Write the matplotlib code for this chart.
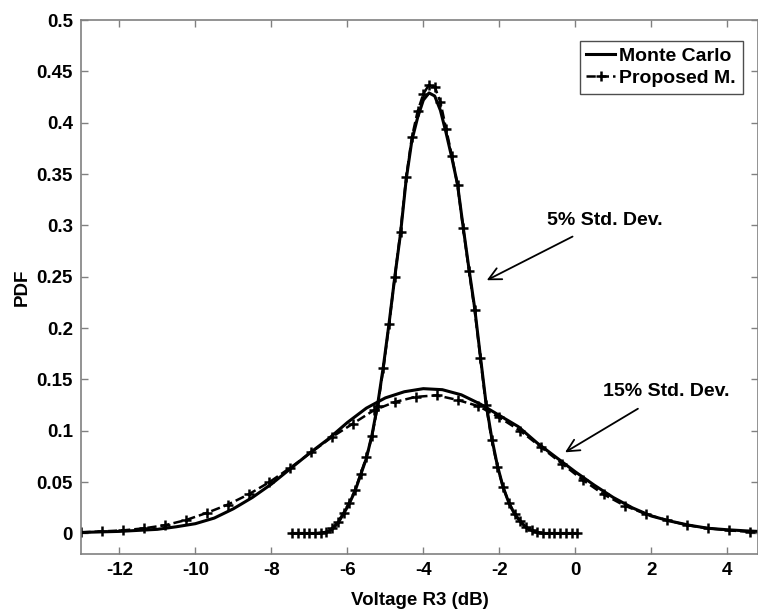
import matplotlib
matplotlib.use('Agg')
import matplotlib.pyplot as plt

plt.rcParams['font.family'] = ['Liberation Sans', 'DejaVu Sans']
plt.rcParams['font.weight'] = 'bold'
plt.rcParams['axes.unicode_minus'] = False

# 5% std. dev. case
narrow_x = [-7.45, -7.30, -7.15, -7.00, -6.85, -6.70, -6.55, -6.40, -6.25, -6.10,
            -5.95, -5.80, -5.65, -5.50, -5.35, -5.20, -5.05, -4.90, -4.75, -4.60,
            -4.45, -4.30, -4.15, -4.00, -3.85, -3.70, -3.55, -3.40, -3.25, -3.10,
            -2.95, -2.80, -2.65, -2.50, -2.35, -2.20, -2.05, -1.90, -1.75, -1.60,
            -1.45, -1.30, -1.15, -1.00, -0.85, -0.70, -0.55, -0.40, -0.25, -0.10, 0.05]
narrow_mc = [0, 0, 0, 0, 0, 0.0005, 0.0012, 0.004, 0.010, 0.019,
             0.029, 0.041, 0.057, 0.073, 0.096, 0.126, 0.163, 0.205, 0.250, 0.292,
             0.345, 0.383, 0.405, 0.422, 0.429, 0.426, 0.412, 0.390, 0.366, 0.340,
             0.298, 0.258, 0.220, 0.173, 0.127, 0.093, 0.066, 0.045, 0.030, 0.019,
             0.012, 0.006, 0.003, 0.001, 0, 0, 0, 0, 0, 0, 0]
narrow_pm = [0, 0, 0, 0, 0, 0.0005, 0.0015, 0.005, 0.011, 0.020,
             0.030, 0.042, 0.058, 0.074, 0.095, 0.124, 0.161, 0.204, 0.250, 0.294,
             0.347, 0.386, 0.411, 0.428, 0.437, 0.435, 0.420, 0.394, 0.368, 0.339,
             0.297, 0.256, 0.218, 0.171, 0.125, 0.091, 0.065, 0.045, 0.030, 0.019,
             0.012, 0.006, 0.003, 0.001, 0, 0, 0, 0, 0, 0, 0]

# 15% std. dev. case
wide_mc_x = [-13.0, -12.5, -12.0, -11.5, -11.0, -10.5, -10.0, -9.5, -9.0, -8.5,
             -8.0, -7.5, -7.0, -6.5, -6.0, -5.5, -5.0, -4.5, -4.0, -3.5,
             -3.0, -2.5, -2.0, -1.5, -1.0, -0.5, 0.0, 0.5, 1.0, 1.5,
             2.0, 2.5, 3.0, 3.5, 4.0, 4.5, 4.8]
wide_mc = [0.001, 0.0015, 0.002, 0.003, 0.004, 0.0065, 0.0095, 0.015, 0.024, 0.035,
           0.048, 0.063, 0.078, 0.092, 0.108, 0.122, 0.132, 0.138, 0.141, 0.140,
           0.135, 0.126, 0.115, 0.104, 0.088, 0.074, 0.060, 0.047, 0.035, 0.025,
           0.017, 0.012, 0.008, 0.005, 0.0036, 0.0025, 0.002]
wide_pm_x = [-13.00, -12.45, -11.90, -11.35, -10.80, -10.25, -9.70, -9.15, -8.60, -8.05,
             -7.50, -6.95, -6.40, -5.85, -5.30, -4.75, -4.20, -3.65, -3.10, -2.55,
             -2.00, -1.45, -0.90, -0.35, 0.20, 0.75, 1.30, 1.85, 2.40, 2.95,
             3.50, 4.05, 4.60]
wide_pm = [0.001, 0.002, 0.003, 0.005, 0.008, 0.013, 0.020, 0.028, 0.038, 0.050,
           0.064, 0.079, 0.094, 0.107, 0.120, 0.128, 0.133, 0.1345, 0.130, 0.124,
           0.113, 0.100, 0.084, 0.068, 0.052, 0.038, 0.027, 0.019, 0.013, 0.008,
           0.005, 0.003, 0.0015]

x_ticks = [-12, -10, -8, -6, -4, -2, 0, 2, 4]
y_ticks = [0, 0.05, 0.1, 0.15, 0.2, 0.25, 0.3, 0.35, 0.4, 0.45, 0.5]
y_tick_labels = ['0', '0.05', '0.1', '0.15', '0.2', '0.25', '0.3', '0.35', '0.4', '0.45', '0.5']

fig = plt.figure(figsize=(7.58, 6.12), dpi=100)
ax = fig.add_axes([0.1073, 0.0948, 0.8923, 0.8725])

mc_style = dict(color='black', linestyle='-', linewidth=2.2)
pm_style = dict(color='black', linestyle='--', linewidth=1.8, marker='+',
                markersize=7, markeredgewidth=1.8)

ax.plot(narrow_x, narrow_mc, label='Monte Carlo', **mc_style)
ax.plot(narrow_x, narrow_pm, label='Proposed M.', **pm_style)
ax.plot(wide_mc_x, wide_mc, **mc_style)
ax.plot(wide_pm_x, wide_pm, **pm_style)

ax.set_xlim(-13, 4.8)
ax.set_ylim(-0.02, 0.5)
ax.set_xticks(x_ticks)
ax.set_yticks(y_ticks)
ax.set_yticklabels(y_tick_labels)
ax.tick_params(direction='in', top=True, right=True, length=5, width=1,
               color='0.5', labelsize=13.5, pad=6)
for s in ax.spines.values():
    s.set_color('0.5')
    s.set_linewidth(1.2)

ax.set_xlabel('Voltage R3 (dB)', fontsize=13.5, fontweight='bold', labelpad=9)
ax.set_ylabel('PDF', fontsize=13.5, fontweight='bold', labelpad=4)

# annotations
ax.annotate('5% Std. Dev.', xy=(-2.33, 0.2466), xytext=(-0.75, 0.305),
            fontsize=14, fontweight='bold', ha='left', va='center',
            arrowprops=dict(arrowstyle='->', color='black', lw=1.3,
                            shrinkA=8, shrinkB=0, mutation_scale=22))
ax.annotate('15% Std. Dev.', xy=(-0.27, 0.079), xytext=(0.73, 0.138),
            fontsize=14, fontweight='bold', ha='left', va='center',
            arrowprops=dict(arrowstyle='->', color='black', lw=1.3,
                            shrinkA=8, shrinkB=0, mutation_scale=22))

leg = ax.legend(loc='upper right', bbox_to_anchor=(0.978, 0.961), borderaxespad=0,
                fontsize=14, handlelength=1.5, handletextpad=0.2, labelspacing=0.2,
                borderpad=0.35, fancybox=False, framealpha=1, numpoints=1)
leg.get_frame().set_edgecolor('0.3')
leg.get_frame().set_linewidth(1.0)

fig.savefig('out.png', dpi=100)
